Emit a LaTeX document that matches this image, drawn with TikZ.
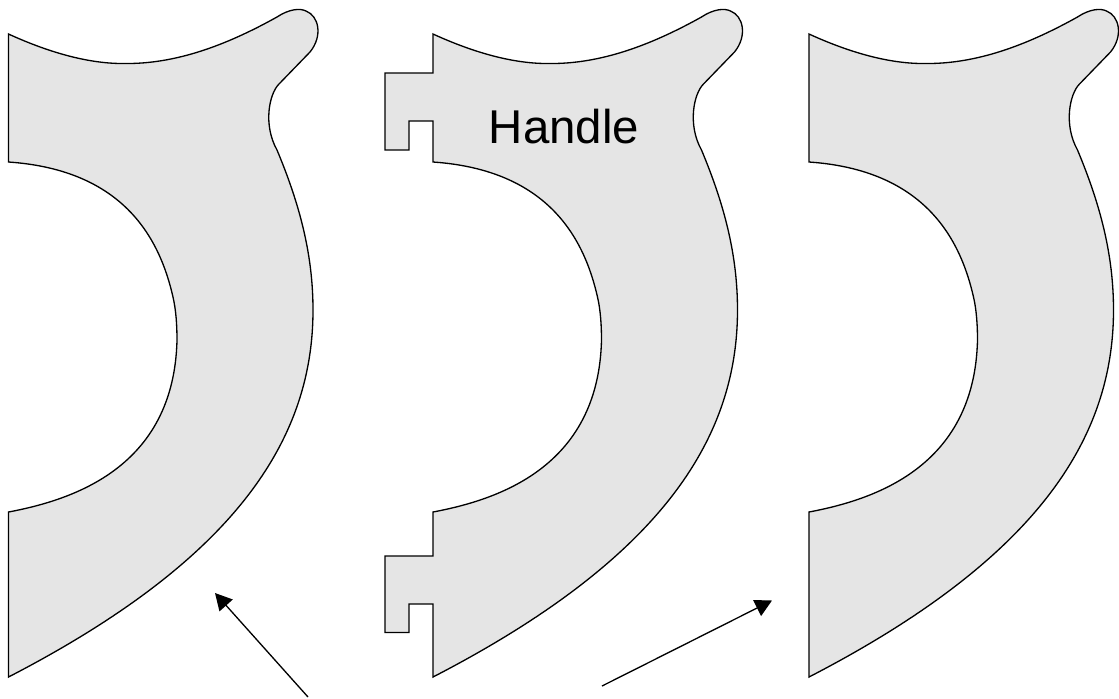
\documentclass[tikz,border=0pt]{standalone}
\usepackage{fontspec}
\setmainfont{Liberation Sans}
\usetikzlibrary{arrows.meta}

\definecolor{partgray}{HTML}{E5E5E5}

% outline of one part, #1 and #2 are the lower and upper edge extras
\newcommand{\partoutline}[2]{
	(8.5,34) .. controls (50,53) and (90,64) .. (125,63.5)
	.. controls (175,64) and (225,46) .. (277,17)
	.. controls (289,9) and (300,8) .. (306,11)
	.. controls (319,16) and (323,36) .. (310,52)
	-- (279,84)
	.. controls (269,94) and (263,125) .. (277,150)
	.. controls (300,205) and (313,255) .. (313,310)
	.. controls (313,440) and (235,560) .. (8.5,677)
	#1 -- (8.5,512)
	.. controls (72,500) and (174,468) .. (177,340)
	.. controls (177,325) and (176,310) .. (173,297)
	.. controls (160,240) and (125,170) .. (8.5,162)
	#2 -- cycle
}

\begin{document}
\begin{tikzpicture}[x=0.02cm, y=-0.02cm]
	\tikzstyle{part} = [ draw=black, fill=partgray, line width=0.75pt, line join=miter];
	\tikzstyle{pointer} = [ -{Triangle[length=9.5pt, width=10pt]}, line width=0.75pt];
	\tikzstyle{info} = [font={\fontsize{27}{30}\selectfont}];

	\useasboundingbox (0,0) rectangle (1119,698);

	\draw[part] \partoutline{}{};
	\draw[part, shift={(800.5,0)}] \partoutline{}{};
	\draw[part, shift={(424.5,0)}] \partoutline
		{-- (8.5,604) -- (-15.5,604) -- (-15.5,632.5) -- (-39.5,632.5) -- (-39.5,556) -- (8.5,556)}
		{-- (8.5,121) -- (-15.5,121) -- (-15.5,150) -- (-39.5,150) -- (-39.5,73) -- (8.5,73)};

	\node[info] (handle) at (564,127) {Handle};

	\coordinate (a1) at (308,697);
	\coordinate (a2) at (215,593);
	\coordinate (b1) at (602,686);
	\coordinate (b2) at (772,600.5);

	\draw[pointer] (a1) -- (a2);
	\draw[pointer] (b1) -- (b2);
\end{tikzpicture}
\end{document}
